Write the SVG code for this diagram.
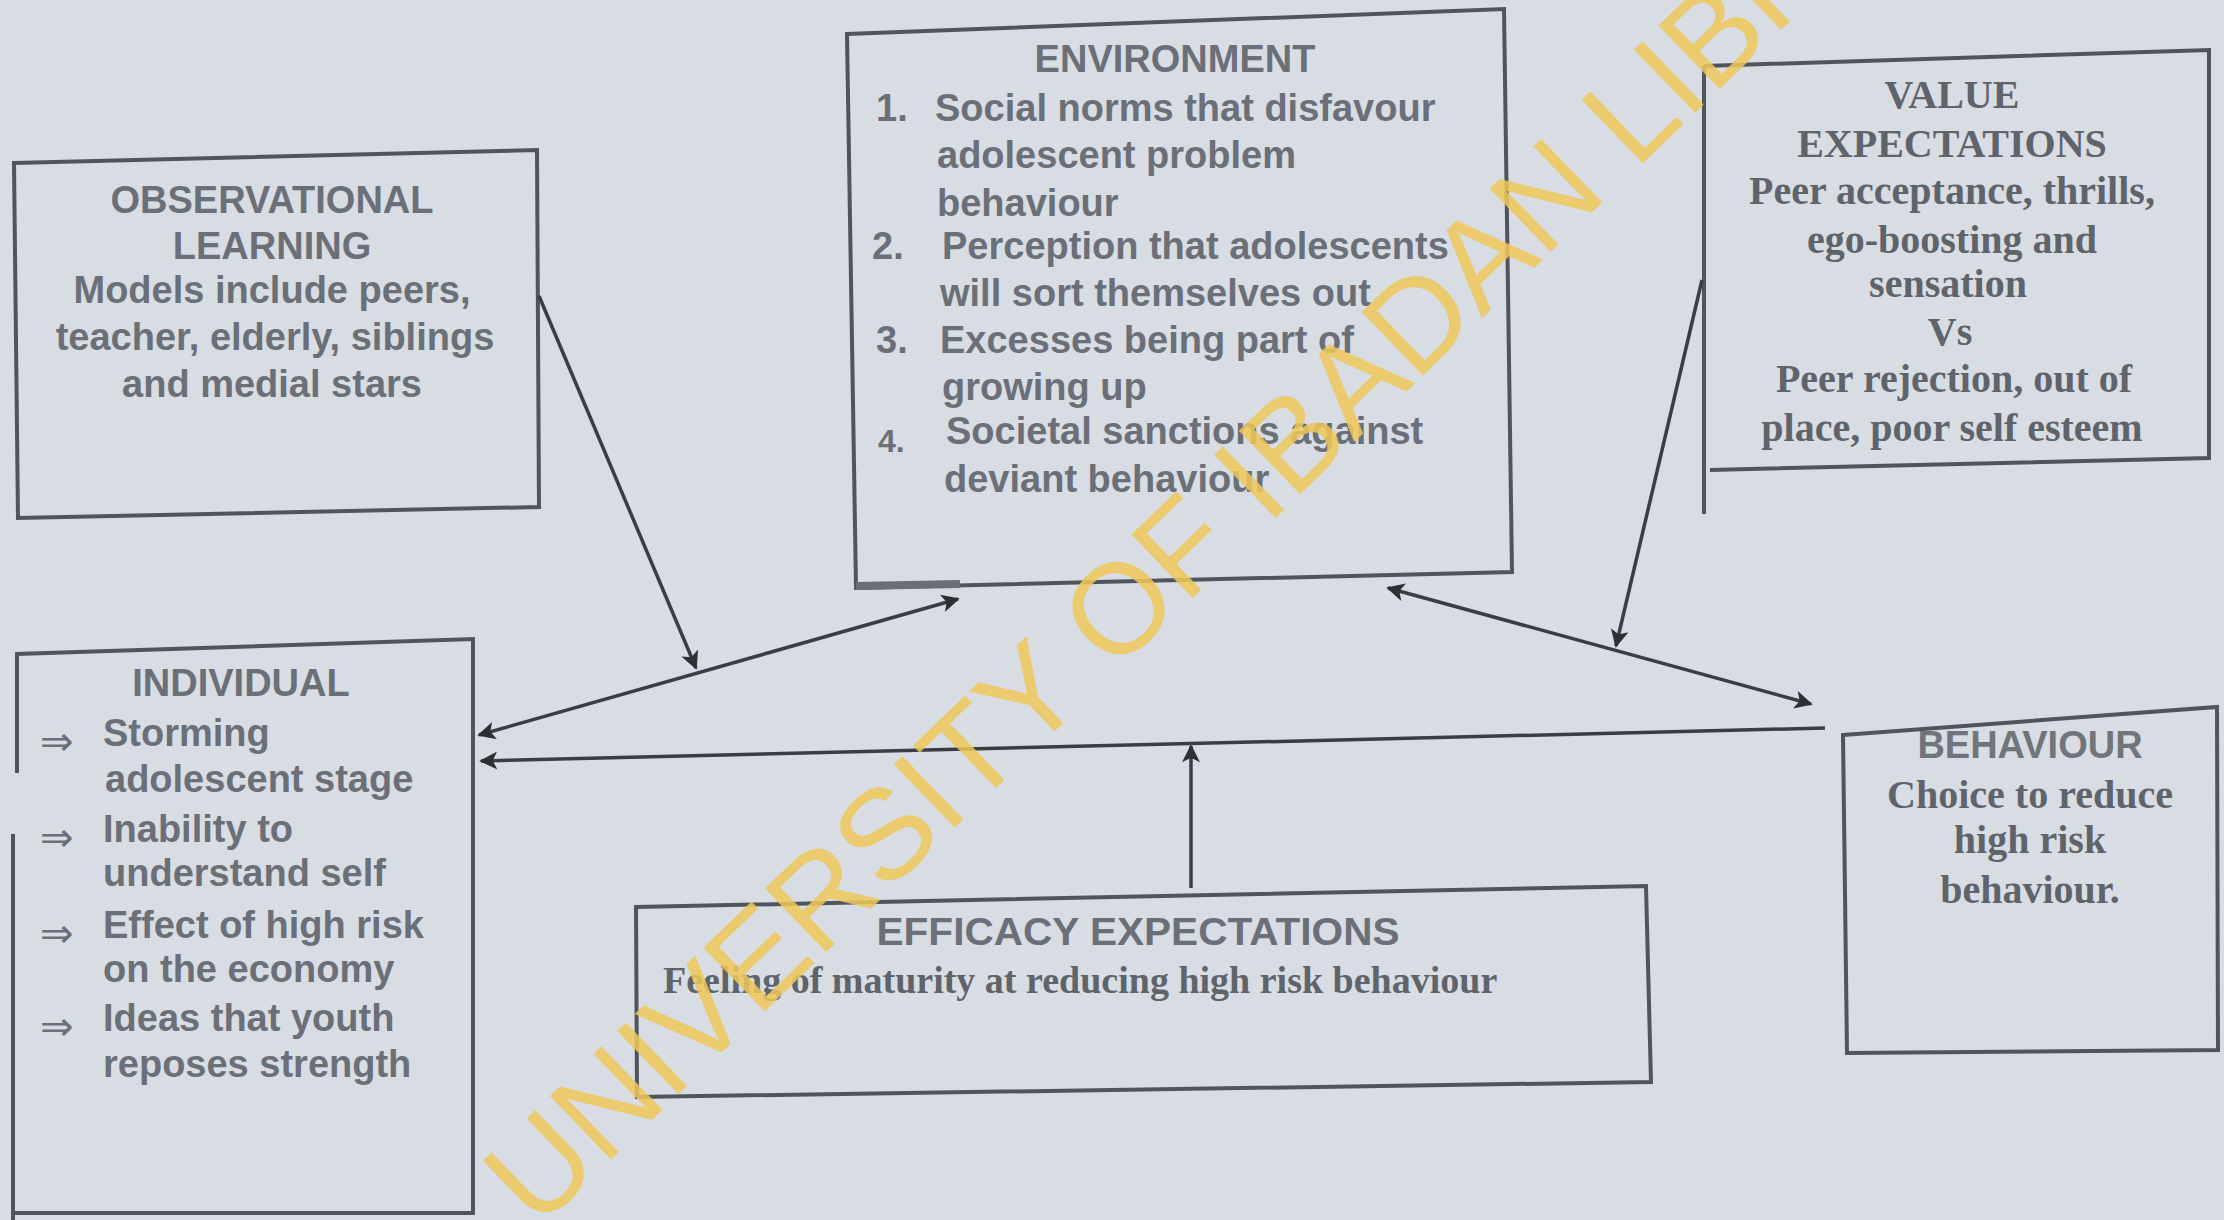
<svg xmlns="http://www.w3.org/2000/svg" width="2224" height="1220" viewBox="0 0 2224 1220">
<defs>
<style>
.bg{fill:#d7dde3}
.box{fill:none;stroke:#50555c;stroke-width:4;stroke-linejoin:miter}
.t{font-family:"Liberation Sans",Arial,sans-serif;font-weight:bold;font-size:38px;fill:#6b7078}
.tc{text-anchor:middle}
.s{font-family:"Liberation Serif","Times New Roman",serif;font-weight:bold;font-size:40px;fill:#5f646b;text-anchor:middle}
.arr{font-family:"DejaVu Sans",sans-serif;font-size:40px;fill:#6b7078}
.con{fill:none;stroke:#3a3e44;stroke-width:3.5}
.wm{font-family:"Liberation Sans",Arial,sans-serif;font-size:128px;fill:#f0c75a;opacity:0.85}
</style>
<marker id="ah" viewBox="0 0 10 10" refX="9" refY="5" markerWidth="26" markerHeight="18" markerUnits="userSpaceOnUse" orient="auto-start-reverse">
<path d="M0,0 L10,5 L0,10 L2.5,5 z" fill="#2c3035"/>
</marker>
</defs>
<rect class="bg" x="0" y="0" width="2224" height="1220"/>

<g id="observational-learning">
<polygon class="box" points="14,163 537,150 539,507 18,518"/>
<text class="t tc" x="272" y="213">OBSERVATIONAL</text>
<text class="t tc" x="272" y="259">LEARNING</text>
<text class="t tc" x="272" y="303">Models include peers,</text>
<text class="t tc" x="275" y="350">teacher, elderly, siblings</text>
<text class="t tc" x="272" y="397">and medial stars</text>
</g>

<g id="environment">
<polygon class="box" points="847,34 1504,9 1512,572 856,588"/>
<line x1="856" y1="586" x2="960" y2="584" stroke="#6a6f76" stroke-width="8"/>
<text class="t tc" x="1175" y="72">ENVIRONMENT</text>
<text class="t" x="876" y="121">1.</text>
<text class="t" x="935" y="121">Social norms that disfavour</text>
<text class="t" x="937" y="168">adolescent problem</text>
<text class="t" x="937" y="216">behaviour</text>
<text class="t" x="872" y="259">2.</text>
<text class="t" x="942" y="259">Perception that adolescents</text>
<text class="t" x="940" y="306">will sort themselves out</text>
<text class="t" x="876" y="353">3.</text>
<text class="t" x="940" y="353">Excesses being part of</text>
<text class="t" x="942" y="400">growing up</text>
<text class="t" x="878" y="452" style="font-size:32px">4.</text>
<text class="t" x="946" y="444">Societal sanctions against</text>
<text class="t" x="944" y="492">deviant behaviour</text>
</g>

<g id="value-expectations">
<polyline class="box" points="1704,66 2209,50 2209,458 1710,470"/>
<line class="box" x1="1704" y1="66" x2="1704" y2="514"/>
<text class="s" x="1952" y="108">VALUE</text>
<text class="s" x="1952" y="157">EXPECTATIONS</text>
<text class="s" x="1952" y="204">Peer acceptance, thrills,</text>
<text class="s" x="1952" y="253">ego-boosting and</text>
<text class="s" x="1948" y="297">sensation</text>
<text class="s" x="1950" y="345">Vs</text>
<text class="s" x="1954" y="392">Peer rejection, out of</text>
<text class="s" x="1952" y="441">place, poor self esteem</text>
</g>

<g id="individual">
<path class="box" d="M17,773 L17,654 L473,639 L473,1213 L13,1213 M13,1220 L13,834"/>
<text class="t tc" x="241" y="696">INDIVIDUAL</text>
<text class="arr" x="40" y="755">⇒</text>
<text class="t" x="103" y="746">Storming</text>
<text class="t" x="105" y="792">adolescent stage</text>
<text class="arr" x="40" y="851">⇒</text>
<text class="t" x="103" y="842">Inability to</text>
<text class="t" x="103" y="886">understand self</text>
<text class="arr" x="40" y="947">⇒</text>
<text class="t" x="103" y="938">Effect of high risk</text>
<text class="t" x="103" y="982">on the economy</text>
<text class="arr" x="40" y="1040">⇒</text>
<text class="t" x="103" y="1031">Ideas that youth</text>
<text class="t" x="103" y="1077">reposes strength</text>
</g>

<g id="efficacy-expectations">
<polygon class="box" points="636,907 1646,886 1651,1082 637,1097"/>
<text class="t tc" x="1138" y="945" textLength="523" lengthAdjust="spacingAndGlyphs">EFFICACY EXPECTATIONS</text>
<text class="s" x="663" y="993" style="font-size:38px;text-anchor:start">Feeling of maturity at reducing high risk behaviour</text>
</g>

<g id="behaviour">
<polygon class="box" points="1843,735 2217,707 2218,1050 1847,1053"/>
<text class="t tc" x="2030" y="758" style="fill:#70757c">BEHAVIOUR</text>
<text class="s" x="2030" y="808">Choice to reduce</text>
<text class="s" x="2030" y="853">high risk</text>
<text class="s" x="2030" y="903">behaviour.</text>
</g>

<g id="connectors">
<line class="con" x1="539" y1="296" x2="696" y2="668" marker-end="url(#ah)"/>
<line class="con" x1="479" y1="735" x2="958" y2="599" marker-start="url(#ah)" marker-end="url(#ah)"/>
<line class="con" x1="1825" y1="728" x2="481" y2="761" marker-end="url(#ah)"/>
<line class="con" x1="1191" y1="888" x2="1191" y2="746" marker-end="url(#ah)"/>
<line class="con" x1="1388" y1="588" x2="1811" y2="704" marker-start="url(#ah)" marker-end="url(#ah)"/>
<line class="con" x1="1702" y1="280" x2="1616" y2="646" marker-end="url(#ah)"/>
</g>

<text class="wm" x="537" y="1231" transform="rotate(-44 537 1231)">UNIVERSITY OF IBADAN LIBRARY</text>
</svg>
